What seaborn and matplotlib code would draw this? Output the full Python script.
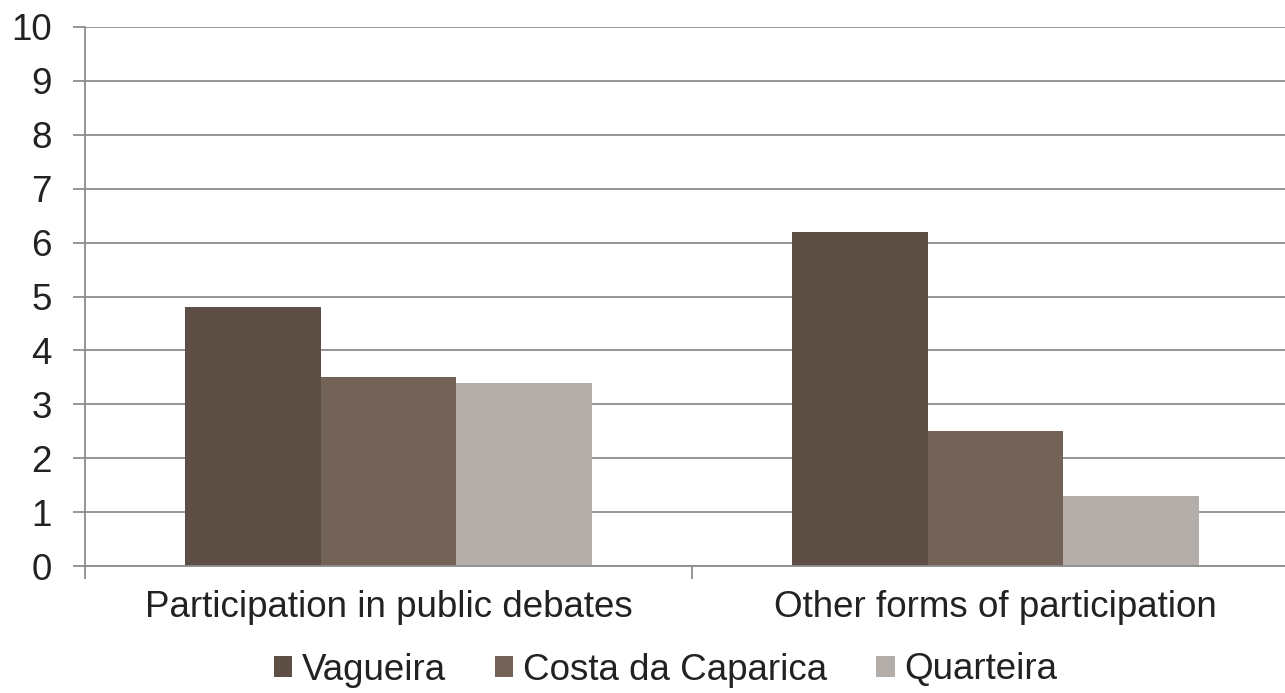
import matplotlib
matplotlib.use("Agg")
import matplotlib.pyplot as plt
from matplotlib.ticker import FixedLocator
import seaborn as sns
import pandas as pd

categories = ["Participation in public debates", "Other forms of participation"]
series = ["Vagueira", "Costa da Caparica", "Quarteira"]
vagueira = [4.8, 6.2]
costa_da_caparica = [3.5, 2.5]
quarteira = [3.4, 1.3]
y_ticks = list(range(0, 11))

colors = ["#5d4f46", "#736257", "#b3aeaa"]
grid_color = "#8c8c8c"
text_color = "#222222"
font_size = 26.5

df = pd.DataFrame({
    "category": categories * 3,
    "series": [series[0]] * 2 + [series[1]] * 2 + [series[2]] * 2,
    "value": vagueira + costa_da_caparica + quarteira,
})

sns.set_theme(style="white")
plt.rcParams["font.family"] = ["Liberation Sans", "DejaVu Sans"]

fig = plt.figure(figsize=(12.85, 6.93), dpi=100)
ax = fig.add_axes([85 / 1285, 127 / 693, 1214 / 1285, 539 / 693])

sns.barplot(data=df, x="category", y="value", hue="series", order=categories,
            hue_order=series, palette=colors, width=0.67, gap=0,
            saturation=1, linewidth=0, ax=ax, legend=True)

ax.set_xlim(-0.5, 1.5)
ax.set_ylim(0, 10)
ax.set_yticks(y_ticks)
ax.yaxis.grid(True, color=grid_color, linewidth=1.3)
ax.set_axisbelow(True)
ax.set_xlabel("")
ax.set_ylabel("")

for side in ["top", "right"]:
    ax.spines[side].set_visible(False)
for side in ["left", "bottom"]:
    ax.spines[side].set_color(grid_color)
    ax.spines[side].set_linewidth(1.3)

ax.tick_params(axis="y", length=9, width=1.3, color=grid_color, pad=15,
               labelsize=font_size, labelcolor=text_color, left=True)
ax.tick_params(axis="x", which="major", length=0, pad=17,
               labelsize=font_size, labelcolor=text_color)
ax.xaxis.set_minor_locator(FixedLocator([-0.5, 0.5, 1.5]))
ax.tick_params(axis="x", which="minor", length=9, width=1.3, color=grid_color,
               bottom=True)

handles, labels = ax.get_legend_handles_labels()
ax.get_legend().remove()
fig.legend(handles, labels, loc="center", bbox_to_anchor=(0.518, 23 / 693),
           ncol=3, frameon=False, fontsize=font_size, handlelength=0.5,
           handleheight=0.5, handletextpad=0.27, columnspacing=1.33,
           labelcolor=text_color, borderpad=0, borderaxespad=0)

fig.savefig("out.png", dpi=100)
